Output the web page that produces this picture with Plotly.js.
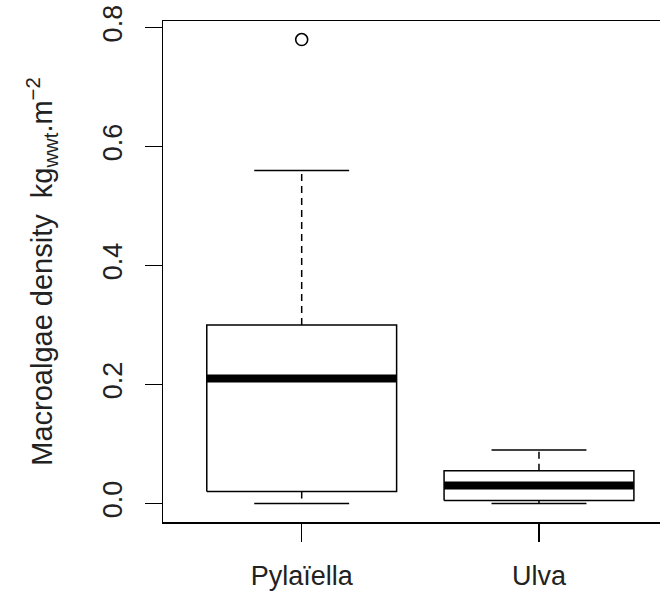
<!DOCTYPE html>
<html>
<head>
<meta charset="utf-8">
<script src="https://cdn.plot.ly/plotly-3.0.1.min.js"></script>
<style>html,body{margin:0;padding:0;background:#fff;}#chart{width:660px;height:595px;}</style>
</head>
<body>
<div id="chart"></div>
<script>
// Data
var categories = ["Pylaïella", "Ulva"];
var lowerWhisker = [0.0, 0.0];
var q1 = [0.02, 0.005];
var median = [0.21, 0.03];
var q3 = [0.30, 0.055];
var upperWhisker = [0.56, 0.09];
var outlierCat = [1];
var outlierVal = [0.78];
var tickVals = [0, 0.2, 0.4, 0.6, 0.8];
var tickText = ["0.0", "0.2", "0.4", "0.6", "0.8"];

var BOXW = 0.4;   // half box width (boxwex 0.8)
var CAPW = 0.2;   // half staple width
var traces = [];
for (var i = 0; i < categories.length; i++) {
  var x = i + 1;
  // box rectangle
  traces.push({type:'scatter', mode:'lines', hoverinfo:'skip', showlegend:false,
    x:[x-BOXW, x+BOXW, x+BOXW, x-BOXW, x-BOXW],
    y:[q1[i], q1[i], q3[i], q3[i], q1[i]],
    line:{color:'#000', width:1.5}});
  // median
  traces.push({type:'scatter', mode:'lines', hoverinfo:'skip', showlegend:false,
    x:[x-BOXW, x+BOXW], y:[median[i], median[i]],
    line:{color:'#000', width:8}});
  // whiskers (dashed)
  traces.push({type:'scatter', mode:'lines', hoverinfo:'skip', showlegend:false,
    x:[x, x, null, x, x], y:[q3[i], upperWhisker[i], null, q1[i], lowerWhisker[i]],
    line:{color:'#000', width:1.5, dash:'7px,5px'}});
  // caps
  traces.push({type:'scatter', mode:'lines', hoverinfo:'skip', showlegend:false,
    x:[x-CAPW, x+CAPW, null, x-CAPW, x+CAPW],
    y:[upperWhisker[i], upperWhisker[i], null, lowerWhisker[i], lowerWhisker[i]],
    line:{color:'#000', width:1.5}});
}
traces.push({type:'scatter', mode:'markers', showlegend:false,
  x: outlierCat, y: outlierVal,
  marker:{symbol:'circle-open', size:12, color:'#000', line:{width:1.6, color:'#000'}}});

var layout = {
  width:660, height:595,
  margin:{l:163, r:0, t:21, b:73},
  paper_bgcolor:'#fff', plot_bgcolor:'#fff',
  font:{family:'Liberation Sans, Arial, sans-serif', size:27, color:'#000'},
  xaxis:{
    range:[0.4155, 2.51], tickmode:'array', tickvals:[1,2], ticktext:categories,
    ticks:'outside', ticklen:18, tickwidth:1.5, tickcolor:'#000',
    showline:true, mirror:true, linecolor:'#000', linewidth:1.5,
    showgrid:false, zeroline:false, ticklabelstandoff:11,
    tickfont:{size:27, color:'#222'}
  },
  yaxis:{
    range:[-0.0312, 0.8112], tickmode:'array', tickvals:tickVals, ticktext:tickText,
    ticks:'outside', ticklen:17, tickwidth:1.5, tickcolor:'#000', tickangle:-90,
    showline:true, mirror:false, linecolor:'#000', linewidth:1.5,
    showgrid:false, zeroline:false, ticklabelstandoff:12,
    tickfont:{size:27, color:'#222'},
    title:{text:'Macroalgae density  kg<sub>wwt</sub>.m<sup>−2</sup>', font:{size:29, color:'#222'}, standoff:36}
  }
};
Plotly.newPlot('chart', traces, layout, {staticPlot:true, displayModeBar:false});
</script>
</body>
</html>
